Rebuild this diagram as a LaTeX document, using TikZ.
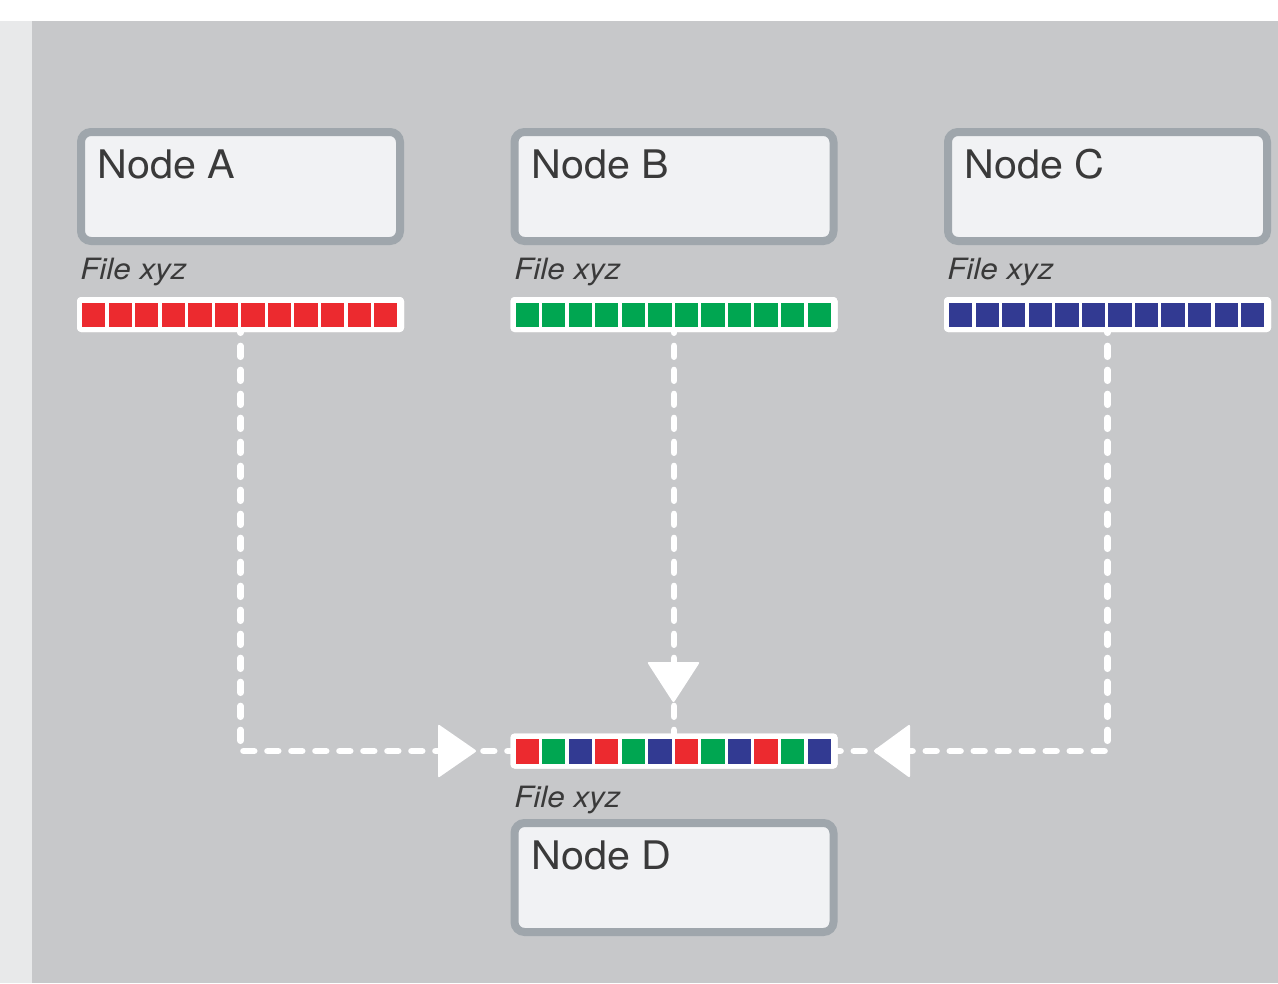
\documentclass[tikz,border=0pt]{standalone}
\usepackage{fontspec}
\setmainfont{TeX Gyre Heros}
\newfontfamily\nodefont[FakeStretch=1.05]{TeX Gyre Heros}
\newfontfamily\filefont[FakeStretch=1.07]{TeX Gyre Heros}
\definecolor{bgmain}{HTML}{C7C8CA}
\definecolor{bgstrip}{HTML}{E8E9EA}
\definecolor{boxfill}{HTML}{F1F2F4}
\definecolor{boxline}{HTML}{9FA6AC}
\definecolor{txt}{HTML}{3A3A3A}
\definecolor{cr}{HTML}{EC2A2F}
\definecolor{cg}{HTML}{00A651}
\definecolor{cb}{HTML}{323A92}
\tikzset{
  nodebox/.style={draw=boxline, fill=boxfill, line width=6pt, rounded corners=7.5pt,
    minimum width=239.25pt, minimum height=81.75pt, inner sep=0pt, outer sep=0pt},
  filebar/.style={fill=white, draw=none, rounded corners=3pt,
    minimum width=245.25pt, minimum height=26.25pt, inner sep=0pt, outer sep=0pt},
  nodelabel/.style={anchor=base west, inner sep=0pt, text=txt, font=\nodefont\fontsize{29.5}{35}\selectfont},
  filelabel/.style={anchor=base west, inner sep=0pt, text=txt, font=\filefont\itshape\fontsize{22}{26}\selectfont},
  flow/.style={draw=white, line width=5pt, line cap=round,
    dash pattern=on 8pt off 10pt, dash phase=7.5pt},
  arrowtri/.style={fill=white, rounded corners=1.5pt},
}
\newcommand{\squares}[3]{% #1 left px, #2 top px, #3 color list
  \foreach \c [count=\i from 0] in {#3} {
    \fill[\c] ({#1+5+\i*26.55},{#2+5.5}) rectangle ++(23.3,24.5);
  }
}
\begin{document}
\begin{tikzpicture}[x=0.75pt, y=-0.75pt]
\useasboundingbox (0,0) rectangle (1278,983);
\fill[white] (0,0) rectangle (1278,983);
\fill[bgstrip] (0,21) rectangle (32,983);
\fill[bgmain] (32,21) rectangle (1278,983);

% file bars
\node[filebar] (barA) at (240.5,314.5) {};
\node[filebar] (barB) at (674,314.5) {};
\node[filebar] (barC) at (1107.5,314.5) {};
\node[filebar] (barD) at (674,751) {};

% connectors
\draw[flow] (barA.south) |- (barD.west);
\draw[flow] (barB.south) -- (barD.north);
\draw[flow] (barC.south) |- (barD.east);

% arrowheads
\fill[arrowtri] (438,724) -- (477,751) -- (438,778) -- cycle;
\fill[arrowtri] (647,662) -- (673.5,703) -- (700,662) -- cycle;
\fill[arrowtri] (910,724) -- (873,751) -- (910,778) -- cycle;

% redraw bars above connectors
\fill[white, rounded corners=3pt] (barA.south west) rectangle (barA.north east);
\fill[white, rounded corners=3pt] (barB.south west) rectangle (barB.north east);
\fill[white, rounded corners=3pt] (barC.south west) rectangle (barC.north east);
\fill[white, rounded corners=3pt] (barD.south west) rectangle (barD.north east);

\squares{77}{297}{cr,cr,cr,cr,cr,cr,cr,cr,cr,cr,cr,cr}
\squares{510.5}{297}{cg,cg,cg,cg,cg,cg,cg,cg,cg,cg,cg,cg}
\squares{944}{297}{cb,cb,cb,cb,cb,cb,cb,cb,cb,cb,cb,cb}
\squares{510.5}{733.5}{cr,cg,cb,cr,cg,cb,cr,cg,cb,cr,cg,cb}

% node boxes
\node[nodebox] (boxA) at (240.5,186.5) {};
\node[nodebox] (boxB) at (674,186.5) {};
\node[nodebox] (boxC) at (1107.5,186.5) {};
\node[nodebox] (boxD) at (674,877.5) {};

% labels
\node[nodelabel] (tA) at (97,178) {Node A};
\node[nodelabel] (tB) at (531,178) {Node B};
\node[nodelabel] (tC) at (964,178) {Node C};
\node[nodelabel] (tD) at (531,869) {Node D};

\node[filelabel] (fA) at (80,279) {File xyz};
\node[filelabel] (fB) at (514,279) {File xyz};
\node[filelabel] (fC) at (947,279) {File xyz};
\node[filelabel] (fD) at (514,807.5) {File xyz};
\end{tikzpicture}
\end{document}
